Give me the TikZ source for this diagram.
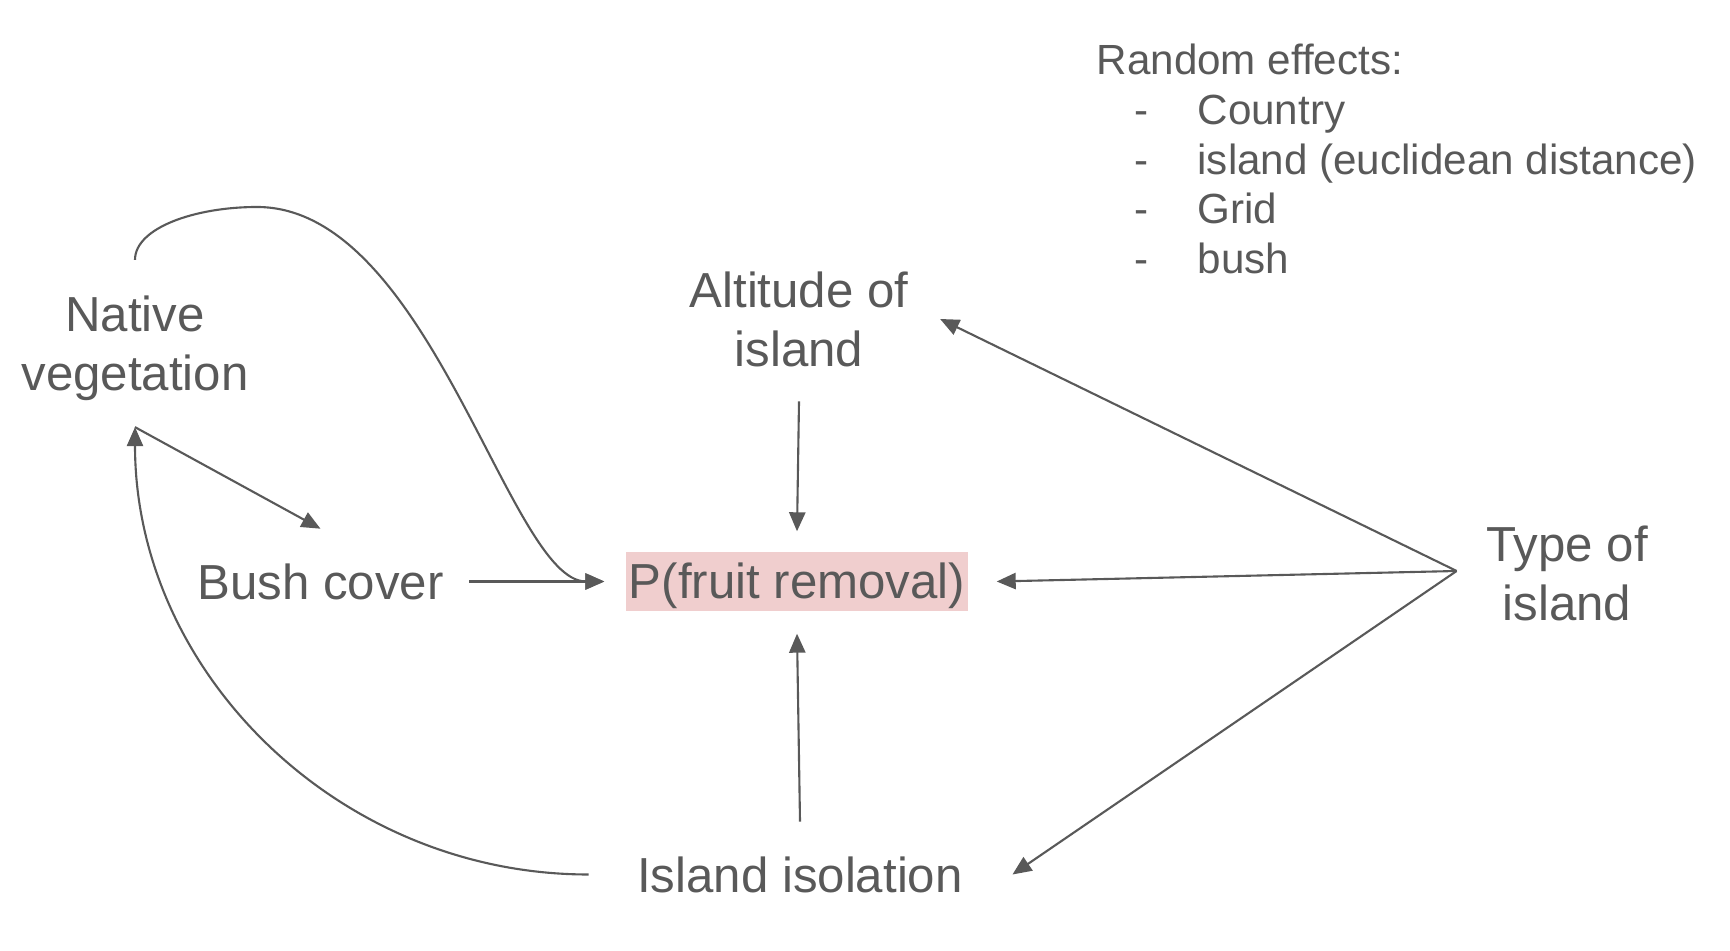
\documentclass[tikz,border=0pt]{standalone}
\usepackage{fontspec}
\setmainfont{Liberation Sans}
\usetikzlibrary{arrows.meta}

\definecolor{labelgrey}{RGB}{89,89,89}
\definecolor{outcomepink}{RGB}{240,206,206}

\tikzstyle{var}=[text=labelgrey,font=\fontsize{14}{16.8}\selectfont,align=center,inner sep=0pt]
\tikzstyle{outcome}=[var,fill=outcomepink,minimum width=3.42cm,minimum height=0.59cm,text height=12.5pt,text depth=2.9pt]
\tikzstyle{reffects}=[text=labelgrey,font=\fontsize{12}{14.2}\selectfont,align=left,inner sep=0pt,anchor=north west]
\tikzstyle{effect}=[-{Triangle[length=5.4pt,width=4.6pt]},draw=labelgrey,line width=0.6pt]

\newcommand{\reitem}[1]{\hspace*{10.8pt}\makebox[17.9pt][l]{-}#1}

\begin{document}
\begin{tikzpicture}[]
\useasboundingbox (0,0) rectangle (17.3,9.5);
% predictors
\node[var] (native) at (1.35,6.02) {Native\\vegetation};
\node[var] (alt)    at (7.99,6.31) {Altitude of\\island};
\node[var] (bush)   at (3.205,3.685) {Bush cover};
\node[var] (type)   at (15.67,3.77) {Type of\\island};
\node[var] (iso)    at (8.00,0.755) {Island isolation};
% response
\node[outcome] (p)  at (7.97,3.685) {P(fruit removal)};
% random effects
\node[reffects] (re) at (10.96,9.07) {Random effects:\\
    \reitem{Country}\\
    \reitem{island (euclidean distance)}\\
    \reitem{Grid}\\
    \reitem{bush}};
% connector ends
\coordinate (nvtop)   at ([yshift=0.35cm]native.north);
\coordinate (nvbot)   at ([yshift=-0.26cm]native.south);
\coordinate (typeout) at ([xshift=-0.29cm,yshift=0.02cm]type.west);
\coordinate (isoleft) at ([xshift=-0.48cm]iso.west);
% arrows
\draw[effect] (nvbot) -- ([yshift=0.34cm]bush.north);
\draw[effect] ([xshift=0.25cm]bush.east) -- ([xshift=-0.21cm]p.west);
\draw[effect] (nvtop) .. controls +(0,0.32) and +(-0.62,0) .. (2.57,7.43)
    .. controls +(1.73,0) and +(-0.95,0) .. ([xshift=-0.21cm]p.west);
\draw[effect] (isoleft) .. controls +(-2.5,0) and +(0,-2.45) .. (nvbot);
\draw[effect] ([yshift=-0.34cm]alt.south) -- ([yshift=0.20cm]p.north);
\draw[effect] ([yshift=0.34cm]iso.north) -- ([yshift=-0.22cm]p.south);
\draw[effect] (typeout) -- ([xshift=0.31cm]alt.east);
\draw[effect] (typeout) -- ([xshift=0.28cm]p.east);
\draw[effect] (typeout) -- ([xshift=0.49cm]iso.east);
\end{tikzpicture}
\end{document}
